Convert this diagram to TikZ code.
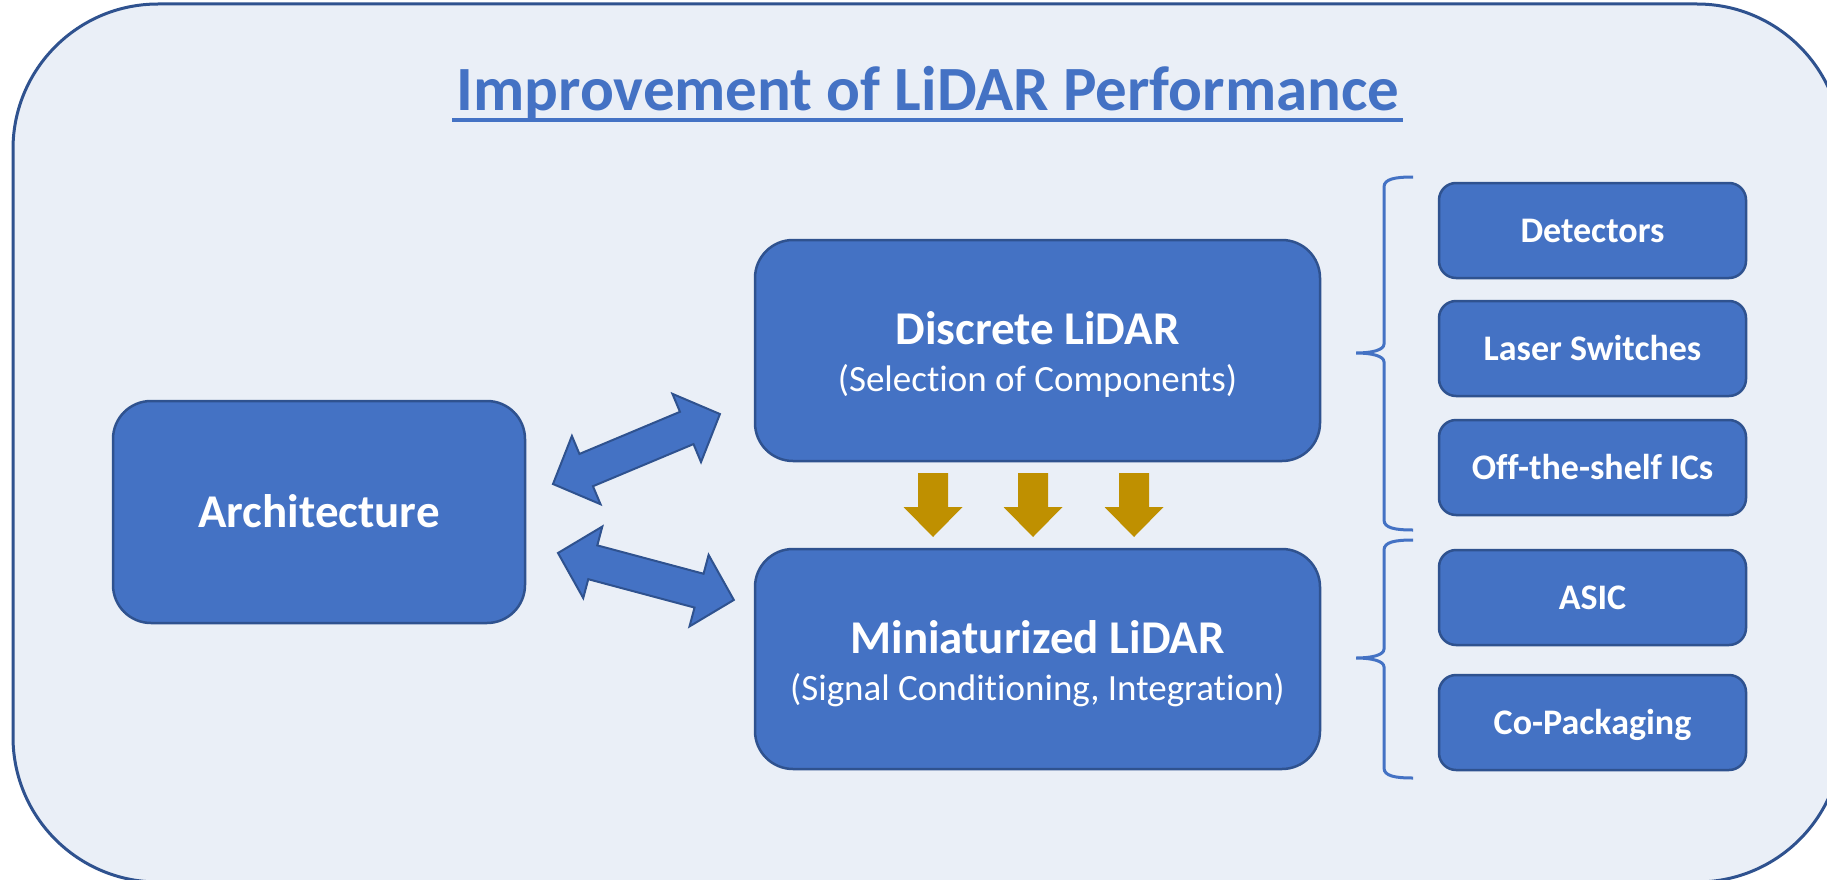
\documentclass[tikz,border=0pt]{standalone}
\usepackage{fontspec}
\setmainfont{Carlito}[Ligatures=CommonOff]
\usetikzlibrary{calc}
\definecolor{boxfill}{HTML}{4472C4}
\definecolor{boxline}{HTML}{2F528F}
\definecolor{bgfill}{HTML}{EAEFF7}
\definecolor{gold}{HTML}{BF9000}
\begin{document}
\begin{tikzpicture}[x=1pt,y=-1pt,
  mainbox/.style={draw=boxline, fill=boxfill, line width=2.5pt, rounded corners=38pt, inner sep=0pt, text=white},
  smallbox/.style={draw=boxline, fill=boxfill, line width=2.5pt, rounded corners=17pt,
     minimum width=307pt, minimum height=95pt, inner sep=0pt, text=white,
     font=\fontsize{36}{43}\selectfont\bfseries, text height=23.2pt, text depth=0pt},
  boldtext/.style={anchor=base, inner sep=0pt, text=white, font=\fontsize{47}{56}\selectfont\bfseries},
  subtext/.style={anchor=base, inner sep=0pt, text=white, font=\fontsize{37}{44}\selectfont},
  brace/.style={draw=boxfill, line width=3pt},
  blockarrow/.style={draw=boxline, fill=boxfill, line width=2pt, line join=miter},
  downarrow/.pic={\fill[gold] (-15,0) -- (15,0) -- (15,34) -- (29.5,34) -- (0,64) -- (-29.5,34) -- (-15,34) -- cycle;}
]
\useasboundingbox (0,0) rectangle (1827,880);
\clip (0,0) rectangle (1827,880);
\fill[white] (0,0) rectangle (1827,880);
% outer panel
\draw[draw=boxline, fill=bgfill, line width=3pt, rounded corners=145pt] (13,4) rectangle (1842,882);

% title
\node[anchor=base, inner sep=0pt, text=boxfill, font=\fontsize{63}{75}\selectfont\bfseries] (title) at (928,111) {Improvement of LiDAR Performance};
\draw[boxfill, line width=4pt] ($(title.base west)+(-4,9)$) -- ($(title.base east)+(3,9)$);

% main boxes
\node[mainbox, minimum width=412pt, minimum height=222pt, font=\fontsize{47}{56}\selectfont\bfseries, text height=30.3pt, text depth=0pt] (arch) at (319,512) {Architecture};
\node[mainbox, minimum width=565pt, minimum height=221pt] (disc) at (1037.5,350.5) {};
\node[boldtext] (disct) at ($(disc.center)+(0,-6)$) {Discrete LiDAR};
\node[subtext] (discs) at ($(disc.center)+(0,41)$) {(Selection of Components)};
\node[mainbox, minimum width=565pt, minimum height=220pt] (mini) at (1037.5,659) {};
\node[boldtext] (minit) at ($(mini.center)+(0,-6)$) {Miniaturized LiDAR};
\node[subtext] (minis) at ($(mini.center)+(0,41)$) {(Signal Conditioning, Integration)};

% small boxes
\node[smallbox] (det) at (1592.5,230.5) {Detectors};
\node[smallbox] (las) at (1592.5,348.5) {Laser Switches};
\node[smallbox] (ots) at (1592.5,467.5) {Off-the-shelf ICs};
\node[smallbox] (asic) at (1592.5,597.5) {ASIC};
\node[smallbox] (cop) at (1592.5,722.5) {Co-Packaging};

% braces
\draw[brace] (1413,177) .. controls (1395,177) and (1384,179) .. (1384,187) -- (1384,344)
   .. controls (1384,350) and (1372,353) .. (1356,353)
   .. controls (1372,353) and (1384,356) .. (1384,362) -- (1384,520)
   .. controls (1384,528) and (1395,530) .. (1413,530);
\draw[brace] (1413,540) .. controls (1395,540) and (1384,542) .. (1384,550) -- (1384,649)
   .. controls (1384,655) and (1372,658) .. (1356,658)
   .. controls (1372,658) and (1384,661) .. (1384,667) -- (1384,768)
   .. controls (1384,776) and (1395,778) .. (1413,778);

% double block arrows between Architecture and the LiDAR boxes
\coordinate (ua) at (553,484);
\coordinate (la) at (558,553);
\begin{scope}[shift={(ua)}, rotate=22.74]
  \draw[blockarrow] (0,0) -- (36,-37) -- (36,-17.5) -- (145,-17.5) -- (145,-37) -- (181,0)
     -- (145,37) -- (145,17.5) -- (36,17.5) -- (36,37) -- cycle;
\end{scope}
\begin{scope}[shift={(la)}, rotate=-14.95]
  \draw[blockarrow] (0,0) -- (36,-37) -- (36,-17.5) -- (146,-17.5) -- (146,-37) -- (182,0)
     -- (146,37) -- (146,17.5) -- (36,17.5) -- (36,37) -- cycle;
\end{scope}

% golden arrows
\pic at (933,473) {downarrow};
\pic at (1033,473) {downarrow};
\pic at (1134,473) {downarrow};
\end{tikzpicture}
\end{document}
